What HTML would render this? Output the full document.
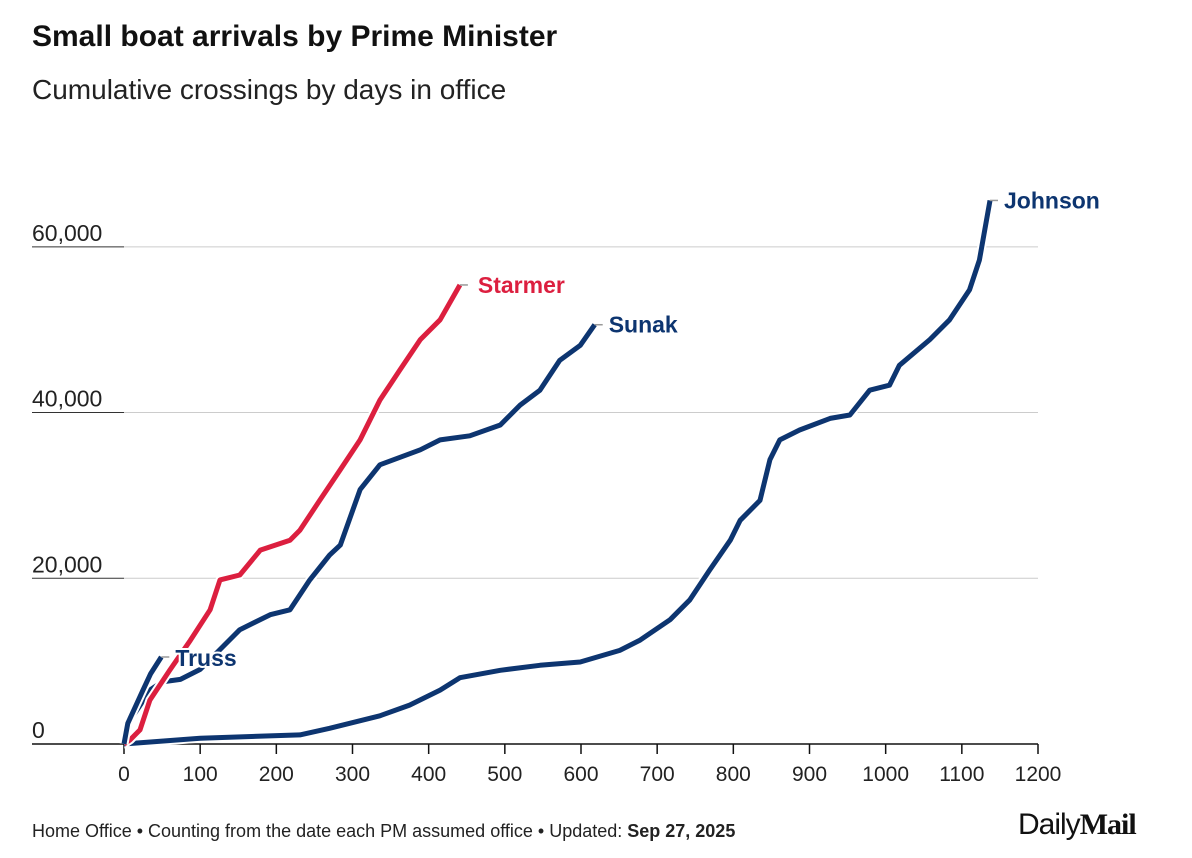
<!DOCTYPE html>
<html><head><meta charset="utf-8"><style>
body{margin:0;background:#fff;font-family:"Liberation Sans",sans-serif;}
#w{position:relative;width:1192px;height:858px;overflow:hidden;}
.t{position:absolute;left:32px;}
</style></head><body><div id="w">
<div class="t" style="top:20px;font-size:30px;font-weight:bold;color:#111">Small boat arrivals by Prime Minister</div>
<div class="t" style="top:74px;font-size:28px;color:#222">Cumulative crossings by days in office</div>
<div class="t" style="top:821px;font-size:18px;color:#222">Home Office • Counting from the date each PM assumed office • Updated: <b>Sep 27, 2025</b></div>
<div style="position:absolute;left:1018px;top:808px;font-size:30px;color:#111;letter-spacing:-1px">Daily<span style="font-family:'Liberation Serif',serif;font-weight:bold;font-size:30px">Mail</span></div>
<svg id="c" width="1192" height="858" style="position:absolute;left:0;top:0"></svg>
</div>
<script>
const xTicks=[0,100,200,300,400,500,600,700,800,900,1000,1100,1200];
const yTicks=[0,20000,40000,60000];
const yTickLabels=["0","20,000","40,000","60,000"];
const johnsonDays=[0,100,231,270,336,375,415,441,494,546,599,651,677,717,743,769,796,809,835,848,861,887,927,953,979,1005,1018,1058,1084,1110,1123,1137];
const johnsonVals=[0,700,1100,1900,3400,4700,6500,8000,8900,9500,9900,11300,12500,15000,17400,21000,24600,27000,29400,34300,36700,37900,39300,39700,42700,43300,45700,48800,51200,54800,58400,65600];
const starmerDays=[0,8,21,34,60,87,113,126,152,179,218,231,257,284,310,336,362,389,415,441];
const starmerVals=[0,500,1700,5300,8900,12500,16200,19800,20400,23400,24600,25800,29400,33100,36700,41500,45100,48800,51200,55400];
const sunakDays=[0,3,8,20,34,50,74,100,152,192,218,244,270,284,310,336,389,415,454,494,520,546,572,599,618];
const sunakVals=[0,1000,2900,4500,6500,7500,7800,9000,13800,15600,16200,19800,22800,24000,30700,33700,35500,36700,37200,38500,40900,42700,46300,48100,50600];
const trussDays=[0,5,15,25,35,49];
const trussVals=[0,2500,4500,6500,8500,10500];
const NS="http://www.w3.org/2000/svg";
const svg=document.getElementById('c');
const X=d=>124+d*914/1200;
const Y=v=>744-v*0.008286;
function mk(t,a,p){const e=document.createElementNS(NS,t);for(const k in a)e.setAttribute(k,a[k]);(p||svg).appendChild(e);return e;}
yTicks.forEach((v,i)=>{
 if(v>0){const g=mk('line',{x1:124,x2:1038,y1:Y(v),y2:Y(v),stroke:'#ccc','stroke-width':1});
 
 
 const s=mk('line',{x1:32,x2:124,y1:Y(v),y2:Y(v),stroke:'#333','stroke-width':1});
 
 }
 const t=mk('text',{x:32,y:Y(v)-6,'font-size':23,fill:'#222','font-family':'Liberation Sans, sans-serif'});
 t.textContent=yTickLabels[i];
 
 
});
const ax=mk('line',{x1:32,x2:1038,y1:744,y2:744,stroke:'#111','stroke-width':1.5});


xTicks.forEach(d=>{
 const l=mk('line',{x1:X(d),x2:X(d),y1:744,y2:754,stroke:'#111','stroke-width':1.5});
 
 
 const t=mk('text',{x:X(d),y:781,'font-size':21,fill:'#222','text-anchor':'middle','font-family':'Liberation Sans, sans-serif'});
 t.textContent=d;
 
 
});
function series(days,vals,color,name,label,lx,ly){
 let d='';days.forEach((x,i)=>{d+=(i?'L':'M')+X(x).toFixed(1)+','+Y(vals[i]).toFixed(1);});
 const h=mk('path',{d:d,fill:'none',stroke:'#fff','stroke-width':9,'stroke-linejoin':'round'});
 
 
 const p=mk('path',{d:d,fill:'none',stroke:color,'stroke-width':5,'stroke-linejoin':'round'});
 
 
 const ex=X(days[days.length-1]),ey=Y(vals[vals.length-1]);
 const c=mk('line',{x1:ex,x2:ex+8,y1:ey,y2:ey,stroke:'#999','stroke-width':1.5});
 
 
 const t=mk('text',{x:ex+lx,y:ey+ly,'font-size':23,'font-weight':'bold',fill:color,'font-family':'Liberation Sans, sans-serif',stroke:'#fff','stroke-width':4,'paint-order':'stroke'});
 t.textContent=label;
 
 
}
series(johnsonDays,johnsonVals,'#0d3570','johnson','Johnson',14,8);
series(sunakDays,sunakVals,'#0d3570','sunak','Sunak',14,8);
series(starmerDays,starmerVals,'#dc1f3f','starmer','Starmer',18,8);
series(trussDays,trussVals,'#0d3570','truss','Truss',14,9);
</script></body></html>
